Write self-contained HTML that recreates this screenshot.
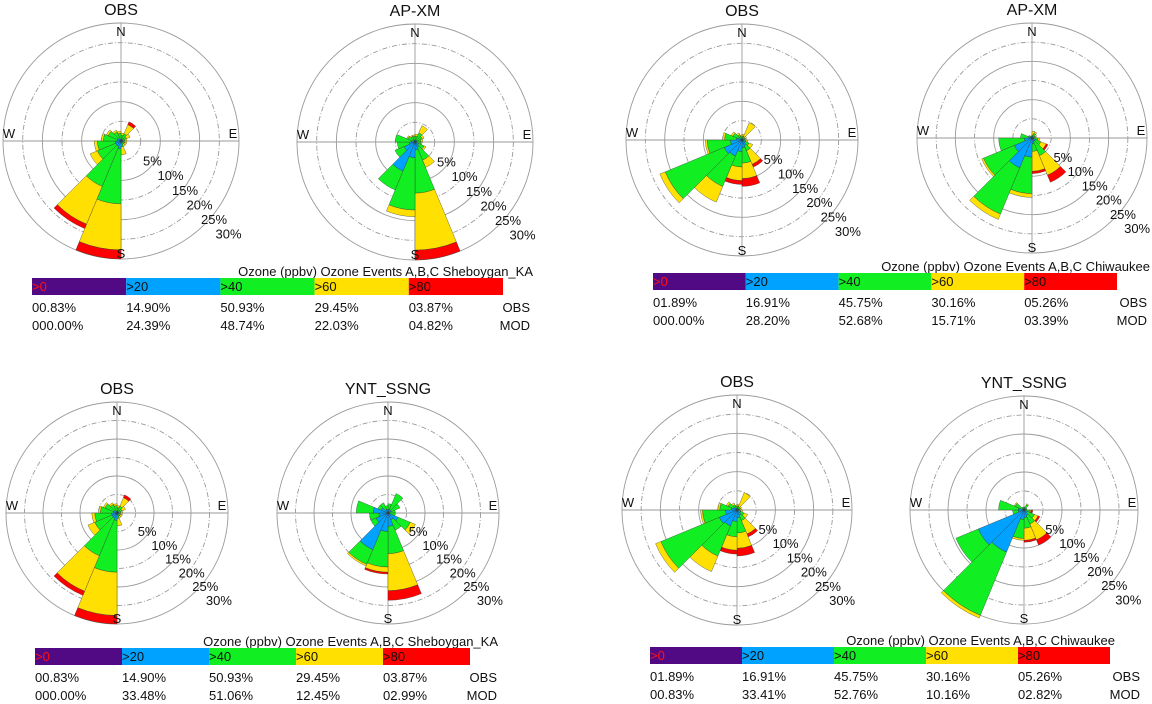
<!DOCTYPE html>
<html><head><meta charset="utf-8">
<style>
html,body{margin:0;padding:0;background:#fff;}
svg{display:block;font-family:"Liberation Sans",sans-serif;}
</style></head>
<body>
<svg id="chart" width="1152" height="704" viewBox="0 0 1152 704" xmlns="http://www.w3.org/2000/svg"></svg>
<script>
// ---- data (percent of hours per 22.5° sector, sector 0 = N, clockwise) ----
const binLabels = [">0", ">20", ">40", ">60", ">80"];
const ringTicks = [5, 10, 15, 20, 25, 30];

const obsShebBlue   = [0.5,0.5,0.5,0.5,0.5,0.5,0.5,0.5,2,1.5,1.5,1.5,1,1,0.5,0.5];
const obsShebGreen  = [1,1.5,1,0.5,0.5,0.5,0.5,1,14,11,5,4.5,3.5,2.5,2,1.5];
const obsShebYellow = [0.5,2.5,1,0.5,0.5,0.5,0.5,2,11.7,10.4,2,0.8,0.5,0.5,0.5,0.5];
const obsShebRed    = [0,0.8,0,0,0,0,0,0,2.3,1.2,0,0,0,0,0,0];

const apShebBlue   = [0.5,0.5,0.5,0.5,0.5,1,1.5,2,4,8,3,1.5,1,0.5,0.5,0.5];
const apShebGreen  = [1,2,1.5,1,1,1.5,3.5,11,13.3,5.2,2.5,3,4,1.5,1,1];
const apShebYellow = [0.5,2,0.5,0.5,0.3,0.5,2,14.5,1.7,0,0,0,0,0.3,0.3,0.3];
const apShebRed    = [0,0,0,0,0,0,0,2.5,0,0,0,0,0,0,0,0];

const obsChiBlue   = [0.5,0.5,0.3,0.3,0.5,1,1.5,2,3,4.5,5,3,1.5,1,0.5,0.5];
const obsChiGreen  = [0.5,0.5,0.5,0.5,0.5,1,1.5,4,4,8.5,16.5,6,3,1.5,1,0.5];
const obsChiYellow = [0.5,3.9,0.5,0.3,0.5,1,3.8,4,3.5,4.4,1.5,0.5,0.5,0.5,0.5,0.3];
const obsChiRed    = [0,0,0,0,0,0,0.8,2,1,0,0,0,0,0,0,0];

const apChiBlue   = [0.3,0.5,0.3,0.3,0.5,1,1,1.5,5,8.4,5,2,1,0.5,0.3,0.3];
const apChiGreen  = [0.5,0.8,0.5,0.5,1,1.5,4,2,9.5,13.1,8.7,6.7,2,0.5,0.3,0.3];
const apChiYellow = [1,0.5,0.5,0.3,0.5,1.5,5.5,5.2,1,1.5,0.5,0,0,0,0,0];
const apChiRed    = [0,0,0,0,0,0.5,2,0.6,0,0,0,0,0,0,0,0];

const yntShebBlue   = [1,1,1,0.5,0.5,3,2,3.6,5,10.7,3.5,2.5,4,2,1,1];
const yntShebGreen  = [1.5,4.7,2.5,1.5,1.5,3.5,3,7.4,9.6,4.3,1.5,2.5,4.6,1,2,1];
const yntShebYellow = [0,0,0,0,0,1.5,0,10,1.4,0.5,0,0,0,0,0,0];
const yntShebRed    = [0,0,0,0,0,0,0,2.6,0.5,0,0,0,0,0,0,0];

const yntChiBlue   = [0.3,0.5,0.3,0.3,0.5,1,1.5,2,2.5,12,13,1.5,1.5,0.5,0.3,0.3];
const yntChiGreen  = [0.5,1,0.5,0.5,1,2,2.5,2.8,5,18,6.4,1.5,5.2,2,0.5,0.5];
const yntChiYellow = [0,0.3,0,0,0.3,1,4.5,3.2,0.5,0.8,0,0,0,0.3,0,0];
const yntChiRed    = [0,0,0,0,0.5,0.5,1.5,0.5,0,0,0,0,0,0,0,0];

const shebObsPct  = ["00.83%","14.90%","50.93%","29.45%","03.87%"];
const shebApPct   = ["000.00%","24.39%","48.74%","22.03%","04.82%"];
const shebYntPct  = ["000.00%","33.48%","51.06%","12.45%","02.99%"];
const chiObsPct   = ["01.89%","16.91%","45.75%","30.16%","05.26%"];
const chiApPct    = ["000.00%","28.20%","52.68%","15.71%","03.39%"];
const chiYntPct   = ["00.83%","33.41%","52.76%","10.16%","02.82%"];

const binColors = ["#520a84","#00a2ff","#11ee22","#ffe000","#ff0000"];
const NS = "http://www.w3.org/2000/svg";
const svg = document.getElementById("chart");

function mk(tag, attrs, parent, text){
  const e = document.createElementNS(NS, tag);
  for (const k in attrs) e.setAttribute(k, attrs[k]);
  if (text !== undefined) e.textContent = text;
  (parent || svg).appendChild(e);
  return e;
}
function pt(cx, cy, r, deg){
  const a = deg * Math.PI / 180;
  return [cx + r * Math.sin(a), cy - r * Math.cos(a)];
}

function drawRose(name, title, cx, cy, R, blue, green, yellow, red){
  const g = mk("g", {});
  
  
  const scale = R / 30; // px per percent
  const t = mk("text", {x: cx, y: cy - R - 8, "text-anchor": "middle", "font-size": 16, fill: "#111"}, g, title);
  
  
  ringTicks.forEach((v, i) => {
    const c = mk("circle", {cx: cx, cy: cy, r: v * scale, fill: "none", stroke: "#9a9a9a", "stroke-width": 0.9,
      "stroke-dasharray": (i % 2 === 0) ? "5,2,1,2" : "none"}, g);
    
    
  });
  const ax1 = mk("line", {x1: cx - R, y1: cy, x2: cx + R, y2: cy, stroke: "#9a9a9a", "stroke-width": 0.9}, g);
  
  
  const ax2 = mk("line", {x1: cx, y1: cy - R, x2: cx, y2: cy + R, stroke: "#9a9a9a", "stroke-width": 0.9}, g);
  
  

  const series = [blue, green, yellow, red];
  for (let k = 0; k < 16; k++){
    let r0 = 0;
    const a0 = k * 22.5, a1 = (k + 1) * 22.5;
    series.forEach((arr, si) => {
      const v = arr[k];
      if (v <= 0) return;
      const r1 = r0 + v;
      const p0 = pt(cx, cy, r0 * scale, a0), p1 = pt(cx, cy, r1 * scale, a0),
            p2 = pt(cx, cy, r1 * scale, a1), p3 = pt(cx, cy, r0 * scale, a1);
      const d = "M" + p0 + "L" + p1 + "A" + (r1 * scale) + "," + (r1 * scale) + " 0 0 1 " + p2 +
                "L" + p3 + (r0 > 0 ? "A" + (r0 * scale) + "," + (r0 * scale) + " 0 0 0 " + p0 : "") + "Z";
      const w = mk("path", {d: d, fill: binColors[si + 1], stroke: "#333", "stroke-width": 0.35}, g);
      
      
      r0 = r1;
    });
  }
  const f = R / 118;
  const dirs = [["N", cx, cy - R + 13], ["S", cx, cy + R - 1], ["W", cx - R + 6, cy - 3], ["E", cx + R - 6, cy - 3]];
  dirs.forEach(d => {
    const e = mk("text", {x: d[1], y: d[2], "text-anchor": "middle", "font-size": 13, fill: "#111"}, g, d[0]);
    
    
  });
  ringTicks.forEach((v, i) => {
    const k = i + 1;
    const e = mk("text", {x: cx + (7.5 + 14.5 * k) * f, y: cy + (10 + 14.6 * k) * f, "font-size": 13, fill: "#111"}, g, v + "%");
    
    
  });
}

function drawLegend(name, x0, x1, yBar, titleText, titleRight, rowsRight, obsPct, modPct){
  const g = mk("g", {});
  
  
  const h = 17, cw = (x1 - x0) / 5;
  const tt = mk("text", {x: titleRight, y: yBar - 2, "text-anchor": "end", "font-size": 13, fill: "#111"}, g, titleText);
  
  
  binLabels.forEach((lb, i) => {
    const r = mk("rect", {x: x0 + i * cw, y: yBar, width: cw, height: h, fill: binColors[i]}, g);
    
    
    const t = mk("text", {x: x0 + i * cw, y: yBar + 13, "font-size": 13, fill: i === 0 ? "#ff1010" : "#111"}, g, lb);
    
    
    const a = mk("text", {x: x0 + i * cw, y: yBar + 34, "font-size": 13, fill: "#111"}, g, obsPct[i]);
    
    
    const b = mk("text", {x: x0 + i * cw, y: yBar + 52, "font-size": 13, fill: "#111"}, g, modPct[i]);
    
    
  });
  const o = mk("text", {x: rowsRight, y: yBar + 34, "text-anchor": "end", "font-size": 13, fill: "#111"}, g, "OBS");
  
  
  const m = mk("text", {x: rowsRight, y: yBar + 52, "text-anchor": "end", "font-size": 13, fill: "#111"}, g, "MOD");
  
  
}

drawRose("rose-obs-sheboygan-top", "OBS", 121, 141, 118, obsShebBlue, obsShebGreen, obsShebYellow, obsShebRed);
drawRose("rose-apxm-sheboygan", "AP-XM", 415, 142, 118, apShebBlue, apShebGreen, apShebYellow, apShebRed);
drawRose("rose-obs-chiwaukee-top", "OBS", 742, 140, 116, obsChiBlue, obsChiGreen, obsChiYellow, obsChiRed);
drawRose("rose-apxm-chiwaukee", "AP-XM", 1032, 138, 115, apChiBlue, apChiGreen, apChiYellow, apChiRed);
drawRose("rose-obs-sheboygan-bottom", "OBS", 117, 513, 111, obsShebBlue, obsShebGreen, obsShebYellow, obsShebRed);
drawRose("rose-ynt-sheboygan", "YNT_SSNG", 388, 513, 111, yntShebBlue, yntShebGreen, yntShebYellow, yntShebRed);
drawRose("rose-obs-chiwaukee-bottom", "OBS", 737, 510, 115, obsChiBlue, obsChiGreen, obsChiYellow, obsChiRed);
drawRose("rose-ynt-chiwaukee", "YNT_SSNG", 1024, 510, 114, yntChiBlue, yntChiGreen, yntChiYellow, yntChiRed);

drawLegend("legend-sheboygan-apxm", 32, 503, 278, "Ozone (ppbv) Ozone Events A,B,C Sheboygan_KA", 533, 530, shebObsPct, shebApPct);
drawLegend("legend-chiwaukee-apxm", 653, 1117, 273, "Ozone (ppbv) Ozone Events A,B,C Chiwaukee", 1150, 1147, chiObsPct, chiApPct);
drawLegend("legend-sheboygan-ynt", 35, 470, 648, "Ozone (ppbv) Ozone Events A,B,C Sheboygan_KA", 498, 497, shebObsPct, shebYntPct);
drawLegend("legend-chiwaukee-ynt", 650, 1110, 647, "Ozone (ppbv) Ozone Events A,B,C Chiwaukee", 1115, 1140, chiObsPct, chiYntPct);
</script>
</body></html>
